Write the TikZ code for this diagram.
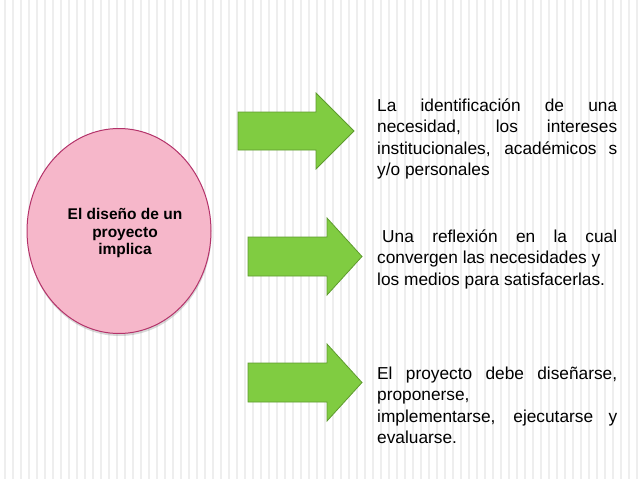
\documentclass[tikz,border=0pt]{standalone}
\usepackage{fontspec}
\setmainfont{Liberation Sans}
\usepackage{tikz}
\usetikzlibrary{shapes.geometric,shadows,positioning}
\usepackage{xcolor}

\definecolor{rosa}{HTML}{F6B7CA}
\definecolor{rosaborde}{HTML}{B4336A}
\definecolor{verde}{HTML}{80CC41}
\definecolor{verdeborde}{HTML}{5E9B2E}
\definecolor{raya}{HTML}{EEEEEE}
\hbadness=10000

\begin{document}
\begin{tikzpicture}[x=1pt, y=-1pt,
    every node/.style={inner sep=0pt},
    flecha/.style={fill=verde, draw=verdeborde, line width=0.8pt, line join=miter},
    texto/.style={anchor=base west, text width=240pt, align=justify,
                  font=\fontsize{17.3}{21.6}\selectfont,
                  execute at begin node={\tolerance=10000\relax}},
    centro/.style={ellipse, fill=rosa, draw=rosaborde, line width=1pt,
                   minimum width=184pt, minimum height=205pt,
                   drop shadow={opacity=0.3, shadow xshift=0.5pt, shadow yshift=-2.5pt}},
    lema/.style={align=center, font=\fontsize{15.5}{17.5}\selectfont\bfseries}
]
\useasboundingbox (0,0) rectangle (638,479);

% ---- Fondo ----
\fill[white] (0,0) rectangle (638,479);
\foreach \x in {4,12,...,636}
  \fill[raya] (\x,0) rectangle ++(2,479);

% ---- Circulo ----
\node[centro] (circulo) at (119,231) {};
\node[lema] (lema) at (125,233) {El diseño de un\\proyecto\\implica};

% ---- Flechas ----
\draw[flecha] (238,112) -- (316,112) -- (316,93) -- (354,131)
              -- (316,169) -- (316,150) -- (238,150) -- cycle;
\draw[flecha] (248,237) -- (327,237) -- (327,218) -- (362,256.5)
              -- (327,295) -- (327,276) -- (248,276) -- cycle;
\draw[flecha] (248,363) -- (327,363) -- (327,344) -- (362,382.5)
              -- (327,421) -- (327,402) -- (248,402) -- cycle;

% ---- Textos ----
\node[texto] (t1) at (377,111) {La identificación de una\linebreak
  necesidad, los intereses\linebreak
  institucionales, académicos s\linebreak
  y/o personales};
\node[texto] (t2) at (377,242) {\hspace*{5pt}Una reflexión en la cual\linebreak
  convergen las necesidades y\\
  los medios para satisfacerlas.};
\node[texto] (t3) at (377,379) {El proyecto debe diseñarse,\linebreak
  proponerse,\\
  implementarse, ejecutarse y\linebreak
  evaluarse.};

\end{tikzpicture}
\end{document}
